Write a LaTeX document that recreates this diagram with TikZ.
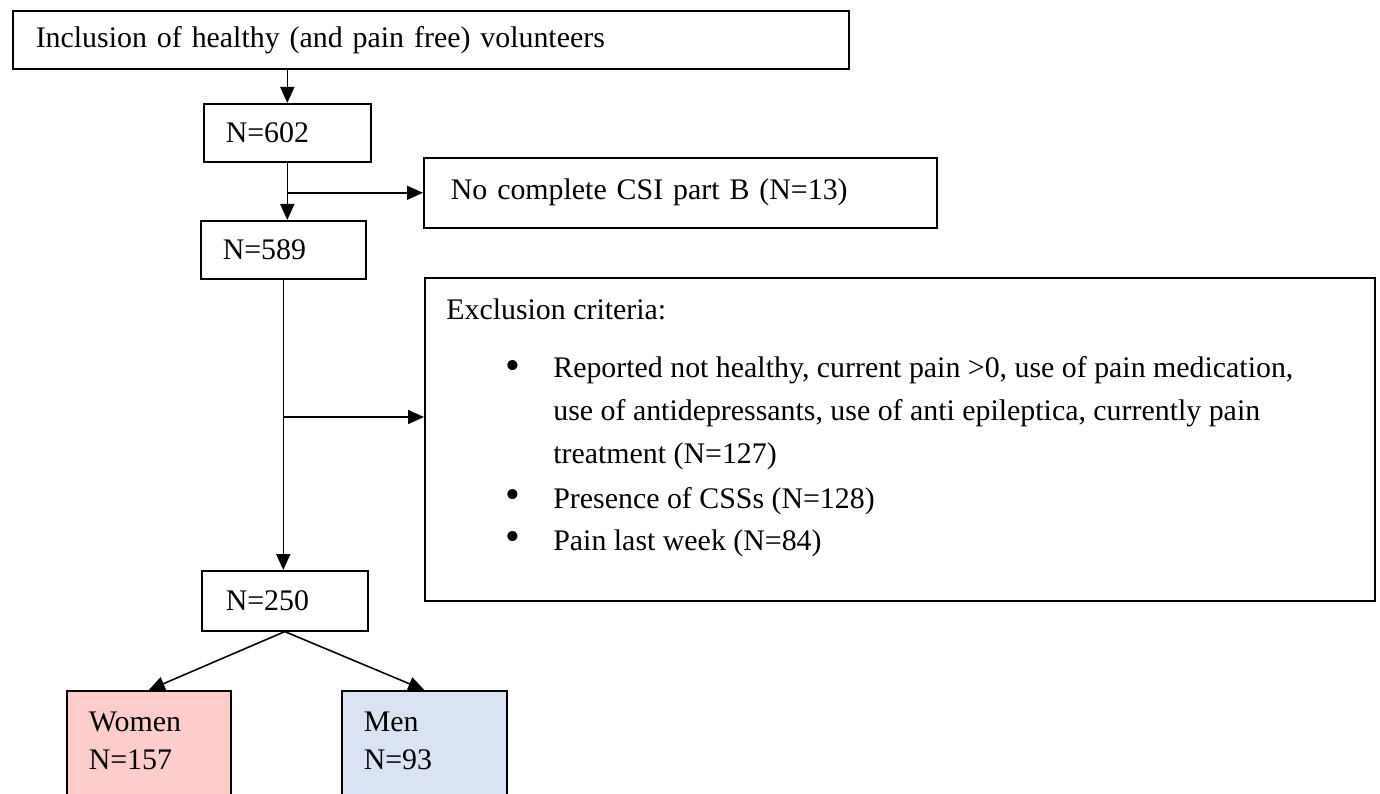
\documentclass[tikz,border=0pt]{standalone}
\usepackage{fontspec}
\setmainfont{Liberation Serif}
\usetikzlibrary{arrows.meta,positioning}
\definecolor{womenpink}{RGB}{255,204,204}
\definecolor{menblue}{RGB}{218,227,243}

\begin{document}
\begin{tikzpicture}
		\tikzset{box style/.style={draw, rectangle, line width=0.9pt,
				anchor=north west, align=left,
				font=\fontsize{17}{21.6}\selectfont},
			arr/.style={line width=0.9pt, -{Triangle[length=0.32cm, width=0.28cm]}},
			item style/.style={anchor=base west, align=left, inner sep=0pt,
				font=\fontsize{17}{24.4}\selectfont}}
		\useasboundingbox (0,0) rectangle (27.6,-15.88);
		\clip (0,0) rectangle (27.6,-15.88);
		
		% Draw the boxes
		\node[box style, minimum width=16.72cm, minimum height=1.16cm,
			text width=15.8cm, inner xsep=0.46cm] at (0.24,-0.2) (incl)
			{Inclusion of healthy (and pain free) volunteers};
		\node[box style, minimum width=3.34cm, minimum height=1.16cm,
			text width=2.46cm, inner xsep=0.44cm] at (4.06,-2.06) (n602) {N=602};
		\node[box style, minimum width=10.26cm, minimum height=1.4cm,
			text width=9.18cm, inner xsep=0.54cm] at (8.46,-3.14) (csi)
			{No complete CSI part B (N=13)};
		\node[box style, minimum width=3.3cm, minimum height=1.16cm,
			text width=2.42cm, inner xsep=0.44cm] at (4.0,-4.4) (n589) {N=589};
		\node[box style, minimum width=19.0cm, minimum height=6.46cm] at (8.48,-5.54) (excl) {};
		\node[box style, minimum width=3.32cm, minimum height=1.2cm,
			text width=2.36cm, inner xsep=0.48cm] at (4.02,-11.4) (n250) {N=250};
		\node[box style, fill=womenpink, text width=2.4cm, inner xsep=0.44cm,
			inner ysep=0.42cm, text depth=1cm] at (1.32,-13.8) (women) {Women\\N=157};
		\node[box style, fill=menblue, text width=2.42cm, inner xsep=0.44cm,
			inner ysep=0.42cm, text depth=1cm] at (6.82,-13.8) (men) {Men\\N=93};
		
		% Exclusion criteria
		\node[item style] at (8.92,-6.38) (crit) {Exclusion criteria:};
		\node[item style] at (10.1,-7.58) (b1) {\fontsize{24}{24}\selectfont\textbullet};
		\node[item style] at (11.06,-9.26) (c1) {Reported not healthy, current pain >0, use of pain medication,\\
			use of antidepressants, use of anti epileptica, currently pain\\
			treatment (N=127)};
		\node[item style] at (10.1,-10.16) (b2) {\fontsize{24}{24}\selectfont\textbullet};
		\node[item style] at (11.06,-10.16) (c2) {Presence of CSSs (N=128)};
		\node[item style] at (10.1,-11.0) (b3) {\fontsize{24}{24}\selectfont\textbullet};
		\node[item style] at (11.06,-11.0) (c3) {Pain last week (N=84)};
		
		% Connect the boxes with arrows
		\coordinate (exclin) at (8.48,-8.34);
		\draw[arr] (incl.south -| n602.north) -- (n602.north);
		\draw[arr] (n602.south) -- (n602.south |- n589.north);
		\draw[arr] (n602.south |- csi.west) -- (csi.west);
		\draw[arr] (n589.south) -- (n589.south |- n250.north);
		\draw[arr] (n589.south |- exclin) -- (exclin);
		\draw[arr] (n250.south) -- (women.north);
		\draw[arr] (n250.south) -- (men.north);
		
		\end{tikzpicture}
\end{document}
